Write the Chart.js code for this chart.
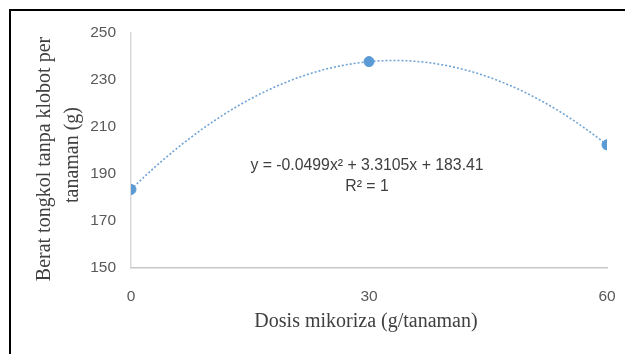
<!DOCTYPE html>
<html>
<head>
<meta charset="utf-8">
<script src="https://cdn.jsdelivr.net/npm/chart.js@4.4.1/dist/chart.umd.min.js"></script>
<style>
  html, body { margin: 0; padding: 0; background: #fff; }
  #wrap { position: relative; width: 625px; height: 354px; overflow: hidden; }
  #frame { position: absolute; left: 9px; top: 9px; width: 640px; height: 360px;
           border-top: 2px solid #000; border-left: 2px solid #000; pointer-events: none; }
  canvas { position: absolute; left: 0; top: 0; }
</style>
</head>
<body>
<div id="wrap">
  <canvas id="c" width="625" height="354"></canvas>
  <div id="frame"></div>
</div>
<script>
// Observed yield per dose
const dosis = [0, 30, 60];
const berat = [183.41, 237.82, 202.40];

// Quadratic trendline y = a x^2 + b x + c
const trendCoef = [-0.0499, 3.3105, 183.41];
const trendText = ['y = -0.0499x\u00B2 + 3.3105x + 183.41', 'R\u00B2 = 1'];

// Axis setup
const yTicks = [150, 170, 190, 210, 230, 250];
const xTicks = [0, 30, 60];
const xTitle = 'Dosis mikoriza (g/tanaman)';
const yTitle = ['Berat tongkol tanpa klobot per', 'tanaman (g)'];

const trendPts = [];
for (let x = 0; x <= 60; x += 1) {
  trendPts.push({ x: x, y: trendCoef[0] * x * x + trendCoef[1] * x + trendCoef[2] });
}

const serif = '"Liberation Serif", "Times New Roman", serif';
const sans = '"Liberation Sans", Arial, sans-serif';

// Axis titles and the trendline equation
const labelsPlugin = {
  id: 'labels',
  afterDraw(chart) {
    const ctx = chart.ctx;
    ctx.save();
    ctx.fillStyle = '#404040';
    ctx.textAlign = 'center';
    ctx.textBaseline = 'middle';
    ctx.font = '20px ' + serif;
    ctx.fillText(xTitle, 366, 322);

    ctx.save();
    ctx.translate(45, 159);
    ctx.rotate(-Math.PI / 2);
    ctx.fillText(yTitle[0], 0, 0);
    ctx.restore();
    ctx.save();
    ctx.translate(73, 155);
    ctx.rotate(-Math.PI / 2);
    ctx.fillText(yTitle[1], 0, 0);
    ctx.restore();

    ctx.font = '15.8px ' + sans;
    ctx.fillText(trendText[0], 367, 166);
    ctx.fillText(trendText[1], 367, 187);
    ctx.restore();
  }
};

new Chart(document.getElementById('c'), {
  type: 'scatter',
  data: {
    datasets: [
      {
        data: dosis.map((d, i) => ({ x: d, y: berat[i] })),
        backgroundColor: '#5B9BD5',
        borderColor: '#5B9BD5',
        pointRadius: 5,
        pointHoverRadius: 5,
        order: 1
      },
      {
        data: trendPts,
        showLine: true,
        borderColor: '#6fa3d6',
        borderWidth: 1.6,
        borderDash: [2, 2],
        pointRadius: 0,
        fill: false,
        order: 2
      }
    ]
  },
  options: {
    responsive: false,
    animation: false,
    events: [],
    layout: { padding: { top: 33, right: 18, left: 0, bottom: 0 } },
    plugins: { legend: { display: false }, tooltip: { enabled: false } },
    scales: {
      x: {
        type: 'linear',
        min: 0, max: 60,
        afterBuildTicks(scale) { scale.ticks = xTicks.map(v => ({ value: v })); },
        afterFit(scale) {
          scale.height = 354 - 268;
          scale.paddingLeft = 0;
          scale.paddingRight = 0;
        },
        grid: { display: false, drawTicks: false },
        border: { display: true, color: '#c8c8c8', width: 1.5 },
        ticks: { padding: 19, color: '#595959', font: { family: sans, size: 15.5 } }
      },
      y: {
        min: 150, max: 250,
        afterBuildTicks(scale) { scale.ticks = yTicks.map(v => ({ value: v })); },
        afterFit(scale) { scale.width = 131; },
        grid: { display: false, drawTicks: false },
        border: { display: true, color: '#d9d9d9', width: 1.5 },
        ticks: { padding: 15, color: '#595959', font: { family: sans, size: 15.5 } }
      }
    }
  },
  plugins: [labelsPlugin]
});
</script>
</body>
</html>
